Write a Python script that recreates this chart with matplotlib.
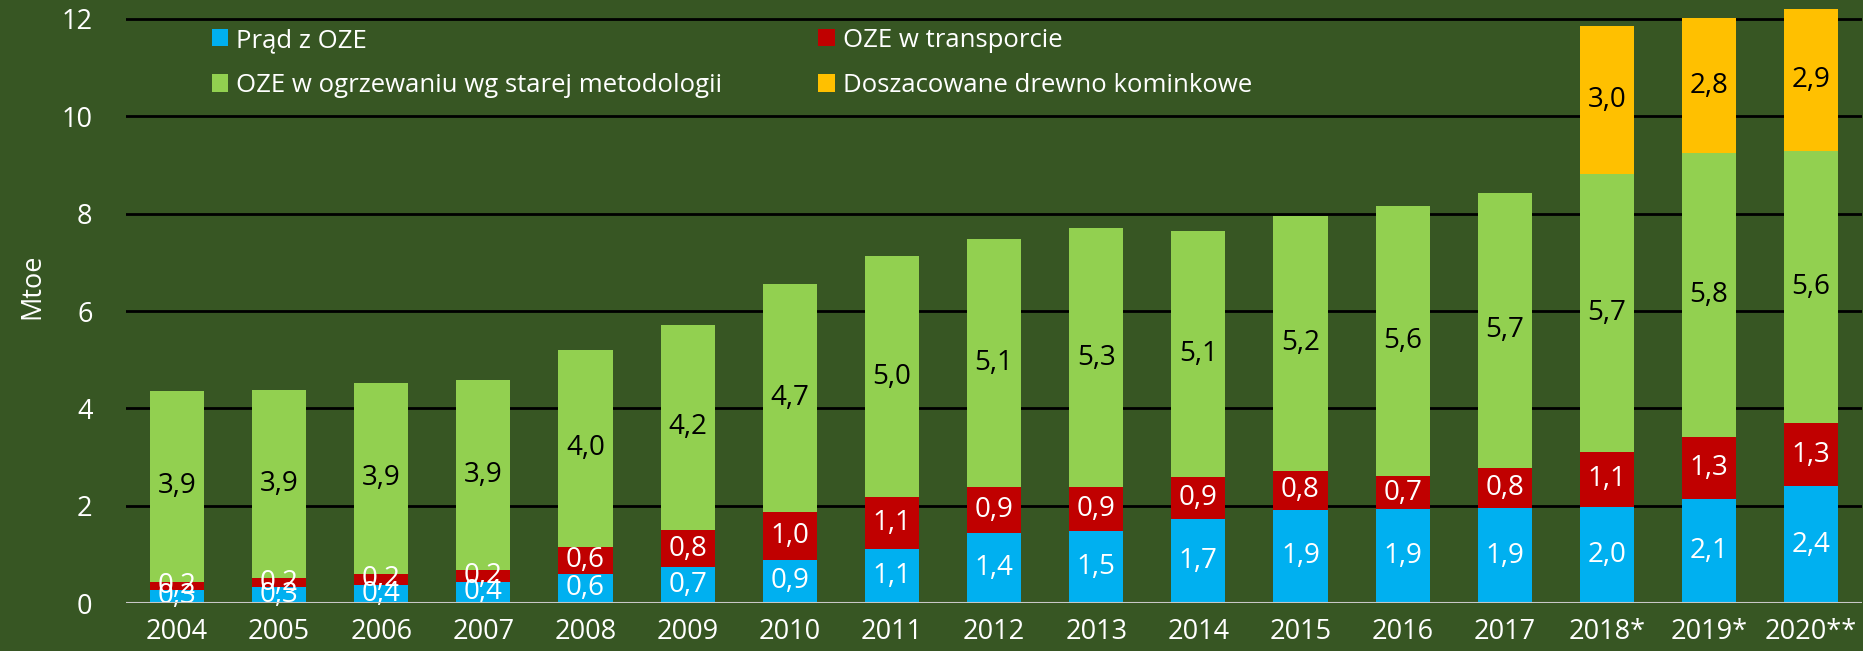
import matplotlib.pyplot as plt
import numpy as np

plt.rcParams['font.family'] = ['Open Sans', 'DejaVu Sans']

years = ['2004', '2005', '2006', '2007', '2008', '2009', '2010', '2011', '2012',
         '2013', '2014', '2015', '2016', '2017', '2018*', '2019*', '2020**']
prad = [0.27, 0.33, 0.38, 0.44, 0.60, 0.74, 0.89, 1.11, 1.44,
        1.48, 1.72, 1.92, 1.94, 1.95, 1.98, 2.14, 2.40]
transport = [0.16, 0.18, 0.22, 0.24, 0.56, 0.76, 0.98, 1.06, 0.94,
             0.90, 0.86, 0.80, 0.66, 0.82, 1.12, 1.28, 1.29]
ogrzewanie = [3.93, 3.87, 3.93, 3.90, 4.03, 4.22, 4.69, 4.96, 5.10,
              5.32, 5.06, 5.23, 5.56, 5.66, 5.72, 5.82, 5.60]
drewno = [0, 0, 0, 0, 0, 0, 0, 0, 0, 0, 0, 0, 0, 0, 3.04, 2.78, 2.91]

bg = '#375623'
fig = plt.figure(figsize=(18.63, 6.51), dpi=100, facecolor=bg)
ax = fig.add_axes([0.0676, 0.0737, 0.932, 0.9263], facecolor=bg)

x = np.arange(len(years))
w = 0.53
series = [
    ('Prąd z OZE', prad, '#00B0F0', 'white'),
    ('OZE w transporcie', transport, '#C00000', 'white'),
    ('OZE w ogrzewaniu wg starej metodologii', ogrzewanie, '#92D050', 'black'),
    ('Doszacowane drewno kominkowe', drewno, '#FFC000', 'black'),
]
bottom = np.zeros(len(years))
handles = {}
for name, vals, col, tcol in series:
    vals = np.array(vals)
    b = ax.bar(x, vals, w, bottom=bottom, color=col, zorder=3, label=name)
    handles[name] = b
    for i, v in enumerate(vals):
        if v > 0:
            ax.text(x[i], bottom[i] + v / 2, f'{v:.1f}'.replace('.', ','),
                    ha='center', va='center', color=tcol, fontsize=20, zorder=4)
    bottom += vals

ax.set_xlim(-0.5, 16.5)
ax.set_ylim(0, 12.39)
ax.set_yticks(range(0, 13, 2))
ax.set_xticks(x)
ax.set_xticklabels(years)
ax.tick_params(axis='both', colors='white', labelsize=19.5, length=0)
ax.tick_params(axis='x', pad=11)
ax.tick_params(axis='y', pad=24)
for s in ax.spines.values():
    s.set_visible(False)
for yv in range(2, 13, 2):
    ax.axhline(yv, color='black', lw=2, zorder=1)
ax.axhline(0, color='#c8c8c8', lw=1.5, zorder=5)

fig.text(0.0175, 0.56, 'Mtoe', rotation=90, color='white', fontsize=19.5,
         ha='center', va='center')

order = ['Prąd z OZE', 'OZE w ogrzewaniu wg starej metodologii',
         'OZE w transporcie', 'Doszacowane drewno kominkowe']
leg = ax.legend([handles[n] for n in order], order, ncol=2, frameon=False,
                loc='upper left', bbox_to_anchor=(0.036, 0.992), fontsize=18.5,
                handlelength=0.65, handleheight=0.65, handletextpad=0.3,
                columnspacing=3.75, labelspacing=0.78)
for t in leg.get_texts():
    t.set_color('white')

fig.savefig('out.png', dpi=100, facecolor=bg)
